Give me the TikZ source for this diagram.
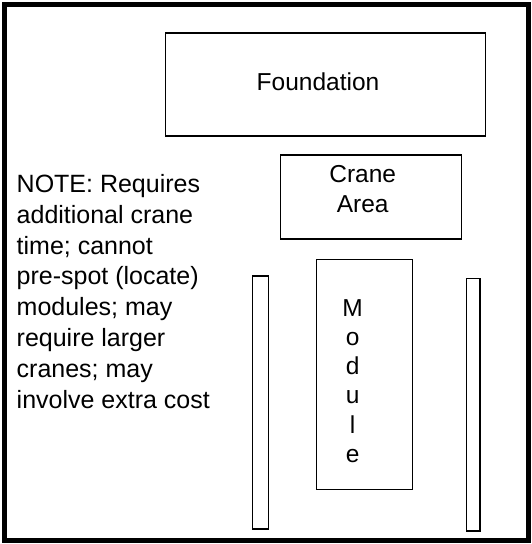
\documentclass[tikz,border=0pt]{standalone}
\usepackage{fontspec}
\setmainfont{Liberation Sans}
\begin{document}
\begin{tikzpicture}[x=1pt, y=-1pt, box/.style={draw, line width=1.2pt, inner sep=0pt}, txt/.style={inner sep=0pt, align=center, font=\fontsize{24.5}{29.5}\selectfont}]
        \useasboundingbox (0,0) rectangle (531,544);
        \draw[line width=5pt] (4.5,4.5) rectangle (528.5,540.5);

        \node[box, minimum width=320pt, minimum height=103pt] (found) at (325.7,84.4) {};
        \node[box, minimum width=181pt, minimum height=84pt] (crane) at (371.2,196.9) {};
        \node[box, minimum width=96pt, minimum height=230pt] (module) at (364.7,374.3) {};
        \node[box, minimum width=16pt, minimum height=253pt] (lstrip) at (260.7,402.5) {};
        \node[box, minimum width=13.3pt, minimum height=252.7pt] (rstrip) at (473.3,404.7) {};

        \node[txt, anchor=base] (foundtext) at (318,90) {Foundation};
        \node[txt, anchor=north] (cranetext) at (362.7,165.6) {Crane\\Area};
        \node[txt, anchor=north, font=\fontsize{24.5}{29.3}\selectfont] (moduletext) at (352.7,299) {M\\o\\d\\u\\l\\e};
        \node[txt, anchor=north west, align=left, font=\fontsize{25}{30.8}\selectfont] (note) at (16.5,174.2)
            {NOTE: Requires\\additional crane\\time; cannot\\pre-spot (locate)\\modules; may\\require larger\\cranes; may\\involve extra cost};
    \end{tikzpicture}
\end{document}
